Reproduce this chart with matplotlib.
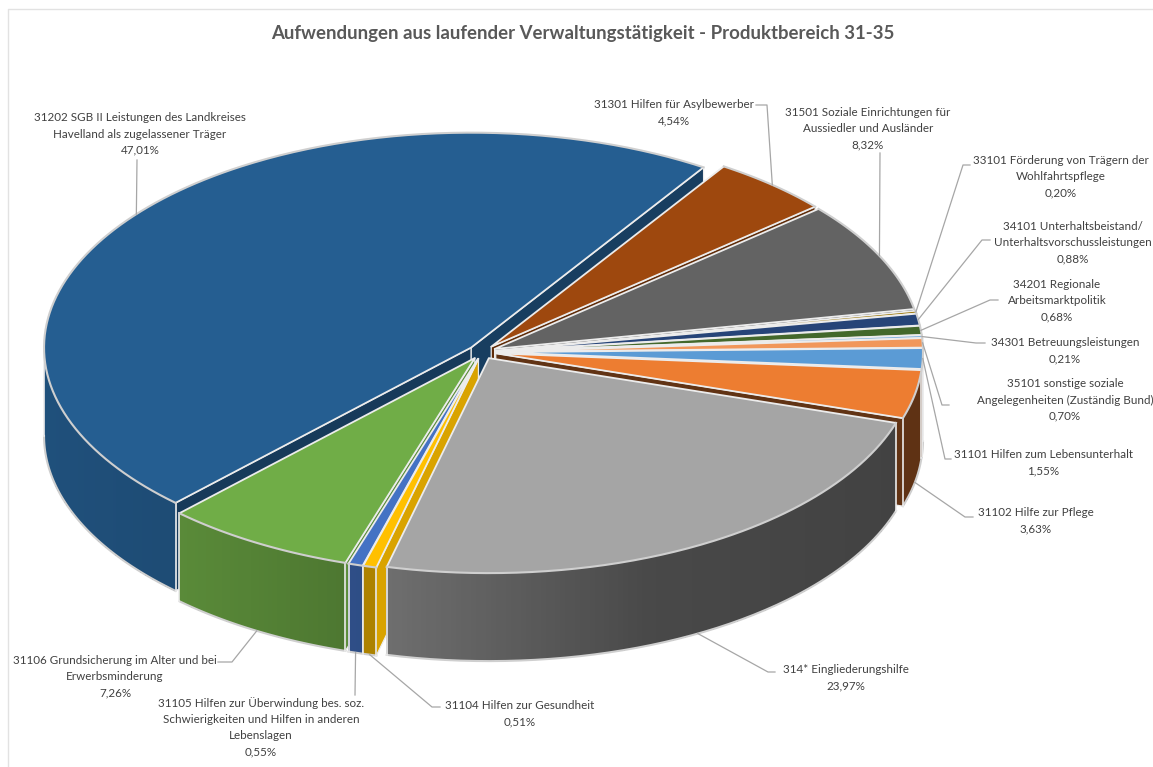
import numpy as np
import matplotlib
matplotlib.use("Agg")
import matplotlib.pyplot as plt
from matplotlib.colors import to_rgb
from matplotlib.patches import Polygon

plt.rcParams['font.family'] = ['Lato', 'DejaVu Sans']

# slices clockwise, starting at the upper right edge of the big blue one
names = ["31301 Hilfen für Asylbewerber",
         "31501 Soziale Einrichtungen für\nAussiedler und Ausländer",
         "33101 Förderung von Trägern der\nWohlfahrtspflege",
         "34101 Unterhaltsbeistand/\nUnterhaltsvorschussleistungen",
         "34201 Regionale\nArbeitsmarktpolitik",
         "34301 Betreuungsleistungen",
         "35101 sonstige soziale\nAngelegenheiten (Zuständig Bund)",
         "31101 Hilfen zum Lebensunterhalt",
         "31102 Hilfe zur Pflege",
         "314* Eingliederungshilfe",
         "31104 Hilfen zur Gesundheit",
         "31105 Hilfen zur Überwindung bes. soz.\nSchwierigkeiten und Hilfen in anderen\nLebenslagen",
         "31106 Grundsicherung im Alter und bei\nErwerbsminderung",
         "31202 SGB II Leistungen des Landkreises\nHavelland als zugelassener Träger"]
percent = [4.54, 8.32, 0.20, 0.88, 0.68, 0.21, 0.70, 1.55, 3.63, 23.97, 0.51, 0.55, 7.26, 47.01]
colors = ["#9E480E", "#636363", "#997300", "#264478", "#43682B", "#7CAFDD", "#F1975A",
          "#5B9BD5", "#ED7D31", "#A5A5A5", "#FFC000", "#4472C4", "#70AD47", "#255E91"]

# label layout: text centre, elbow and end of the leader line (None = no elbow)
label_xy = [(674, 113), (868, 129), (1061, 177), (1073, 243), (1057, 301), (1065, 351), (1065, 400),
            (1043, 463), (1036, 521), (846, 678), (520, 714), (261, 727), (115, 677), (140, 134)]
leaders = [[(767, 105), (756, 105)], [(880, 153)], [(963, 165), (970, 165)], [(982, 240), (990, 240)],
           [(990, 300), (998, 300)], [(976, 343), (985, 343)], [(942, 405), (949, 405)], [(945, 459), (951, 459)],
           [(965, 517), (973, 517)], [(768, 672), (775, 672)], [(432, 707), (440, 707)], [(355, 695)],
           [(232, 662), (218, 662)], [(137, 160)]]
leader_on_wall = [False, False, False, False, False, False, False, False, True, True, True, True, True, False]

cx, cy = 482, 352
rx, ry = 427, 215
explode = 14
depth = 88
start_angle = 57
edge = "#cfcfcf"
edge_in = "#ececec"

# brightness of the outer wall from left to right, and of the cut faces by direction
wall_x = [44, 180, 345, 385, 650, 900]
wall_f = [0.85, 0.80, 0.69, 0.67, 0.44, 0.40]
face_dir = [-110, -44, -33, -14]
face_f = [0.40, 0.62, 0.66, 0.85]


def shade(col, f):
    return tuple(c * f for c in to_rgb(col))


def rim(ax0, ay0, ang):
    return ax0 + rx * np.cos(np.radians(ang)), ay0 - ry * np.sin(np.radians(ang))


fig = plt.figure(figsize=(11.53, 7.67), dpi=100)
ax = fig.add_axes([0, 0, 1, 1])
ax.set_xlim(0, 1153)
ax.set_ylim(767, 0)
ax.axis("off")

shares = np.array(percent) / np.sum(percent) * 360
ends = start_angle - np.cumsum(shares)
starts = ends + shares

# back slices first, the big gray one last
order = [13, 0, 1, 2, 3, 4, 5, 6, 7, 8, 12, 11, 10, 9]
z = 2
for i in order:
    a0, a1 = starts[i], ends[i]
    mid = (a0 + a1) / 2
    ox = cx + explode * np.cos(np.radians(mid))
    oy = cy - explode * 0.5 * np.sin(np.radians(mid))
    col = colors[i]

    # cut faces towards the middle, only those turned to the viewer
    for ang, normal in [(a1, a1 - 90), (a0, a0 + 90)]:
        n = (normal + 180) % 360 - 180
        if n > 0:
            continue
        f = np.interp(n, face_dir, face_f)
        x, y = rim(ox, oy, ang)
        ax.add_patch(Polygon([(ox, oy), (x, y), (x, y + depth), (ox, oy + depth)],
                             facecolor=shade(col, f), edgecolor=edge_in, lw=0.9, zorder=z))
        z += 1

    # outer wall, only the part turned to the front
    angs = np.linspace(a0, a1, max(int((a0 - a1) * 1.5), 2) + 1)
    angs = angs[np.sin(np.radians(angs)) <= 0.001]
    if len(angs) > 1:
        xs, ys = rim(ox, oy, angs)
        for k in range(len(angs) - 1):
            f = np.interp((xs[k] + xs[k + 1]) / 2, wall_x, wall_f)
            c = shade(col, f)
            j = min(k + 2, len(angs) - 1)
            ax.add_patch(Polygon([(xs[k], ys[k]), (xs[j], ys[j]),
                                  (xs[j], ys[j] + depth), (xs[k], ys[k] + depth)],
                                 facecolor=c, edgecolor="none", antialiased=False, zorder=z))
            z += 0.001
        z += 1
        ax.plot(xs, ys + depth, color=edge, lw=1.5, zorder=z)
        ax.plot([xs[0], xs[0]], [ys[0], ys[0] + depth], color=edge_in, lw=1.2, zorder=z)
        ax.plot([xs[-1], xs[-1]], [ys[-1], ys[-1] + depth], color=edge_in, lw=1.2, zorder=z)
        z += 1

    # top face
    angs = np.linspace(a0, a1, max(int((a0 - a1) * 2), 2) + 1)
    xs, ys = rim(ox, oy, angs)
    ax.add_patch(Polygon([(ox, oy)] + list(zip(xs, ys)), facecolor=col, edgecolor="none", zorder=z))
    ax.plot([xs[0], ox, xs[-1]], [ys[0], oy, ys[-1]], color=edge_in, lw=1.3, zorder=z + 0.1)
    ax.plot(xs, ys, color=edge, lw=1.5, zorder=z + 0.2)
    z += 1

    # leader line, starts at the rim of the slice
    x, y = rim(ox, oy, mid)
    if leader_on_wall[i]:
        y += depth
    pts = [(x, y)] + leaders[i]
    ax.plot([p[0] for p in pts], [p[1] for p in pts], color="#a6a6a6", lw=0.9, zorder=1000)

    # label with percent
    text = names[i] + "\n" + f"{percent[i]:.2f}".replace(".", ",") + "%"
    ax.text(label_xy[i][0], label_xy[i][1], text, ha="center", va="center", fontsize=8.35,
            color="#404040", linespacing=1.58, zorder=1001)

ax.text(583, 33.5, "Aufwendungen aus laufender Verwaltungstätigkeit - Produktbereich 31-35",
        ha="center", va="center", fontsize=13.45, fontweight="bold", color="#595959")

ax.plot([8, 8, 1153], [767, 8.5, 8.5], color="#e2e2e2", lw=1.0)

fig.savefig("out.png", dpi=100)
